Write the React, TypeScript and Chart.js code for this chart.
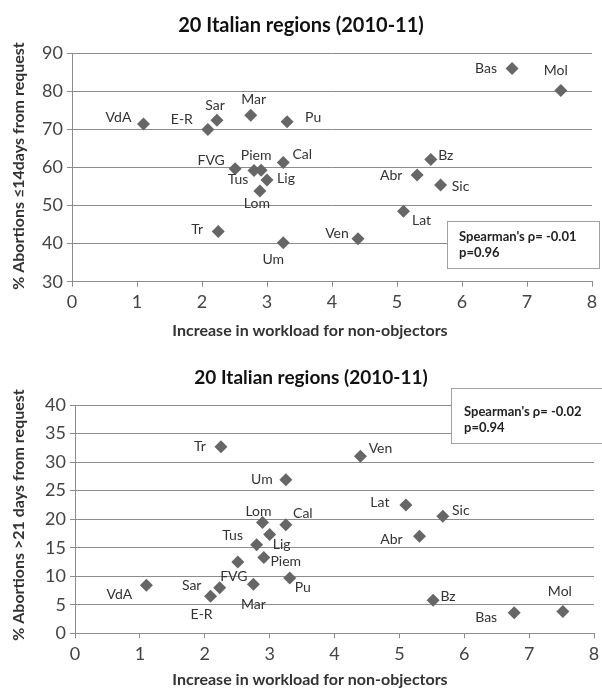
import React, { useEffect, useRef } from 'react';
import { Chart, registerables } from 'chart.js';

Chart.register(...registerables);

// ---------------- DATA ----------------
const regions = ['VdA', 'E-R', 'Sar', 'Tr', 'FVG', 'Mar', 'Tus', 'Lom', 'Piem', 'Lig', 'Cal', 'Um', 'Pu', 'Ven', 'Lat', 'Abr', 'Bz', 'Sic', 'Bas', 'Mol'];
const workloadIncrease = [1.1, 2.09, 2.23, 2.25, 2.51, 2.75, 2.8, 2.89, 2.91, 3.0, 3.25, 3.25, 3.31, 4.4, 5.1, 5.31, 5.52, 5.67, 6.77, 7.52];
const pctWithin14Days = [71.4, 70.0, 72.4, 43.2, 59.7, 73.7, 59.2, 53.8, 59.3, 56.7, 61.3, 40.2, 72.0, 41.3, 48.5, 58.0, 62.1, 55.4, 86.0, 80.2];
const pctOver21Days = [8.4, 6.5, 8.0, 32.7, 12.5, 8.6, 15.5, 19.4, 13.3, 17.3, 19.0, 26.9, 9.7, 31.0, 22.5, 17.0, 5.8, 20.5, 3.6, 3.8];

const xTicks = [0, 1, 2, 3, 4, 5, 6, 7, 8];
const yTicksTop = [30, 40, 50, 60, 70, 80, 90];
const yTicksBottom = [0, 5, 10, 15, 20, 25, 30, 35, 40];

const chartTitle = '20 Italian regions (2010-11)';
const xAxisTitle = 'Increase in workload for non-objectors';
const yAxisTitleTop = '% Abortions \u226414days from request';
const yAxisTitleBottom = '% Abortions >21 days from request';
const statsTop = ["Spearman's \u03c1= -0.01", 'p=0.96'];
const statsBottom = ["Spearman's \u03c1= -0.02", 'p=0.94'];

// label placement offsets (pixels, relative to the marker)
const labelOffsetsTop: [number, number][] = [
  [-25, -7], [-26, -10], [-2, -15], [-21, -2], [-24, -8], [3, -16], [-16, 9], [-3, 12], [-5, -15], [19, -2],
  [19, -8], [-10, 17], [26, -4], [-21, -5], [18, 9], [-26, 0], [15, -4], [20, 1], [-26, 0], [-5, -20],
];
const labelOffsetsBottom: [number, number][] = [
  [-27, 9], [-9, 18], [-28, -2], [-21, 0], [-4, 15], [0, 20], [-24, -9], [-4, -11], [22, 4], [12, 10],
  [17, -11], [-24, 0], [13, 10], [20, -8], [-26, -2], [-28, 3], [15, -4], [18, -6], [-28, 5], [-3, -20],
];

const W = 602;
const H = 344;
const FONT = 'Lato, "Open Sans", sans-serif';

interface Layout {
  left: number; top: number; right: number; bottom: number;
  titleX: number; titleY: number; titleSize: number;
  xTitleX: number; xTitleY: number;
  yTitleX: number; yTitleY: number;
  box: { l: number; t: number; r: number; b: number; tx: number; l1: number; l2: number };
}

const layoutTop: Layout = {
  left: 72, top: 53.3, right: 592, bottom: 281.7,
  titleX: 301, titleY: 31.5, titleSize: 20,
  xTitleX: 310, xTitleY: 331,
  yTitleX: 19, yTitleY: 166,
  box: { l: 447.5, t: 221.5, r: 599.5, b: 268.5, tx: 459, l1: 237, l2: 253 },
};
const layoutBottom: Layout = {
  left: 75, top: 61, right: 594, bottom: 289.3,
  titleX: 311, titleY: 39.5, titleSize: 19,
  xTitleX: 310, xTitleY: 336,
  yTitleX: 19, yTitleY: 171,
  box: { l: 451.5, t: 44.5, r: 605, b: 99.5, tx: 464, l1: 68, l2: 84 },
};

function buildChart(
  canvas: HTMLCanvasElement,
  yValues: number[],
  yTicks: number[],
  offsets: [number, number][],
  yTitle: string,
  stats: string[],
  L: Layout,
) {
  const points = workloadIncrease.map((x, i) => ({ x, y: yValues[i] }));
  const yMin = yTicks[0];
  const yMax = yTicks[yTicks.length - 1];
  const yStep = yTicks[1] - yTicks[0];

  const overlay = {
    id: 'overlay',
    afterDatasetsDraw(chart: any) {
      const ctx = chart.ctx as CanvasRenderingContext2D;
      ctx.save();
      // point labels
      const meta = chart.getDatasetMeta(0);
      ctx.font = `14px ${FONT}`;
      ctx.fillStyle = '#333';
      ctx.textAlign = 'center';
      ctx.textBaseline = 'middle';
      meta.data.forEach((el: any, i: number) => {
        const [dx, dy] = offsets[i];
        ctx.fillText(regions[i], el.x + dx, el.y + dy);
      });
      // stats box
      const b = L.box;
      ctx.fillStyle = '#fff';
      ctx.fillRect(b.l, b.t, b.r - b.l, b.b - b.t);
      ctx.strokeStyle = '#a0a0a0';
      ctx.lineWidth = 1;
      ctx.strokeRect(b.l, b.t, b.r - b.l, b.b - b.t);
      ctx.fillStyle = '#222';
      ctx.textAlign = 'left';
      ctx.font = `bold 13px ${FONT}`;
      ctx.fillText(stats[0], b.tx, b.l1);
      ctx.fillText(stats[1], b.tx, b.l2);
      // chart title
      ctx.textAlign = 'center';
      ctx.textBaseline = 'alphabetic';
      ctx.fillStyle = '#111';
      ctx.font = `bold ${L.titleSize}px ${FONT}`;
      ctx.fillText(chartTitle, L.titleX, L.titleY);
      // x axis title
      ctx.textBaseline = 'middle';
      ctx.fillStyle = '#333';
      ctx.font = `bold 16px ${FONT}`;
      ctx.fillText(xAxisTitle, L.xTitleX, L.xTitleY);
      // y axis title
      ctx.translate(L.yTitleX, L.yTitleY);
      ctx.rotate(-Math.PI / 2);
      ctx.font = `bold 16px ${FONT}`;
      ctx.fillText(yTitle, 0, 0);
      ctx.restore();
    },
  };

  return new Chart(canvas, {
    type: 'scatter',
    data: {
      datasets: [
        {
          data: points,
          pointStyle: 'rectRot',
          pointRadius: 6.5,
          pointHoverRadius: 6.5,
          backgroundColor: '#666666',
          borderColor: '#666666',
          borderWidth: 0,
        },
      ],
    },
    options: {
      responsive: false,
      animation: false,
      events: [],
      layout: { padding: { top: L.top, right: W - L.right, left: 0, bottom: 0 } },
      plugins: { legend: { display: false }, tooltip: { enabled: false }, title: { display: false } },
      scales: {
        x: {
          type: 'linear',
          min: xTicks[0],
          max: xTicks[xTicks.length - 1],
          afterBuildTicks: (scale: any) => { scale.ticks = xTicks.map((v) => ({ value: v })); },
          ticks: { font: { family: FONT, size: 18 }, color: '#444', padding: 5, maxRotation: 0 },
          grid: { drawOnChartArea: false, drawTicks: true, tickLength: 5, color: '#8c8c8c' },
          border: { display: true, color: '#8c8c8c' },
          afterFit: (scale: any) => {
            scale.height = H - L.bottom;
            scale.paddingLeft = 0; scale.paddingRight = 0;
          },
        },
        y: {
          type: 'linear',
          min: yMin,
          max: yMax,
          afterBuildTicks: (scale: any) => { scale.ticks = yTicks.map((v) => ({ value: v })); },
          ticks: { font: { family: FONT, size: 18 }, color: '#444', padding: 4, stepSize: yStep },
          grid: { drawTicks: true, tickLength: 5, color: '#8c8c8c' },
          border: { display: true, color: '#8c8c8c' },
          afterFit: (scale: any) => {
            scale.width = L.left;
            scale.paddingTop = 0; scale.paddingBottom = 0;
          },
        },
      },
    },
    plugins: [overlay],
  } as any);
}

function ScatterPanel(props: {
  yValues: number[]; yTicks: number[]; offsets: [number, number][]; yTitle: string; stats: string[]; L: Layout; top: number;
}) {
  const ref = useRef<HTMLCanvasElement>(null);
  useEffect(() => {
    if (!ref.current) return;
    const c = buildChart(ref.current, props.yValues, props.yTicks, props.offsets, props.yTitle, props.stats, props.L);
    return () => c.destroy();
  }, []);
  return (
    <div style={{ position: 'absolute', left: 0, top: props.top, width: W, height: H }}>
      <canvas ref={ref} width={W} height={H} style={{ width: W, height: H, display: 'block' }} />
    </div>
  );
}

export default function App() {
  return (
    <div style={{ position: 'absolute', left: 0, top: 0, width: W, height: 688, background: '#fff' }}>
      <ScatterPanel yValues={pctWithin14Days} yTicks={yTicksTop} offsets={labelOffsetsTop} yTitle={yAxisTitleTop} stats={statsTop} L={layoutTop} top={0} />
      <ScatterPanel yValues={pctOver21Days} yTicks={yTicksBottom} offsets={labelOffsetsBottom} yTitle={yAxisTitleBottom} stats={statsBottom} L={layoutBottom} top={344} />
    </div>
  );
}
